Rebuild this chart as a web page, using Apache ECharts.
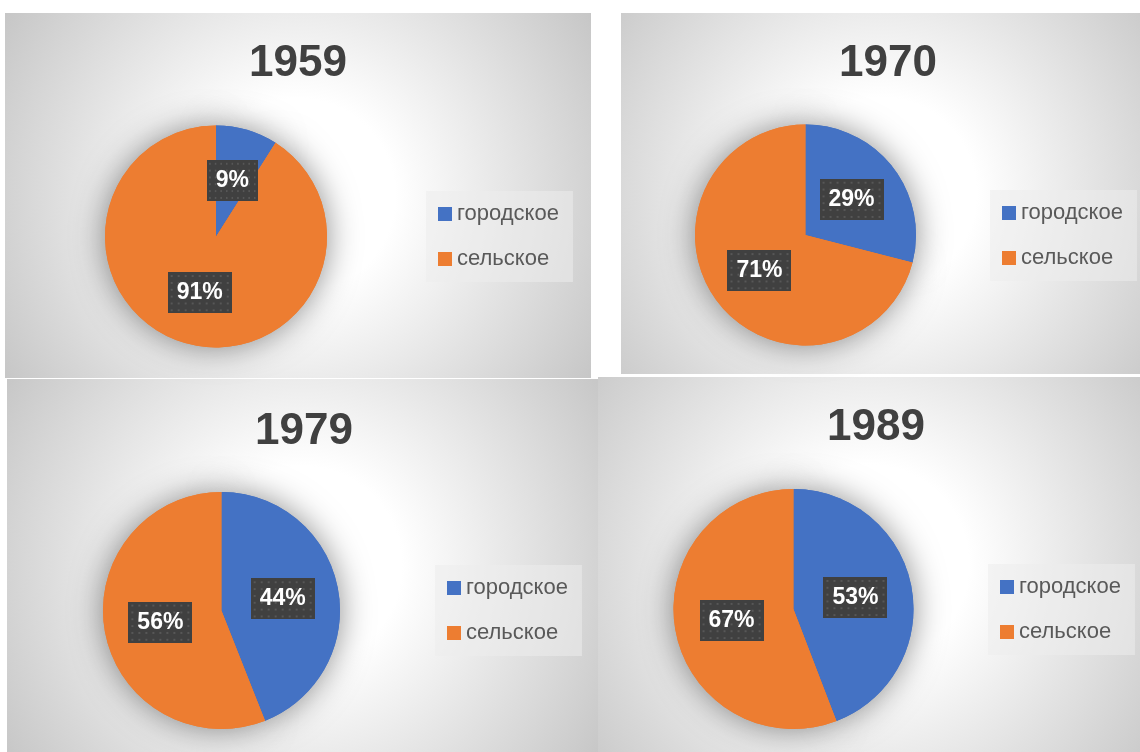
<!DOCTYPE html>
<html>
<head>
<meta charset="utf-8">
<script src="https://cdn.jsdelivr.net/npm/echarts@6/dist/echarts.min.js"></script>
<style>
  html, body { margin: 0; padding: 0; background: #ffffff; }
  #chart { width: 1140px; height: 752px; }
</style>
</head>
<body>
<div id="chart"></div>
<script>
// ---- data ----
const years = ['1959', '1970', '1979', '1989'];
const categories = ['городское', 'сельское'];
const urban = [9, 29, 44, 53];
const rural = [91, 71, 56, 67];

// ---- layout / style (not data) ----
const panels = [
  { x: 5,   y: 13,  w: 586, h: 365 },
  { x: 621, y: 13,  w: 519, h: 361 },
  { x: 7,   y: 379, w: 591, h: 373 },
  { x: 598, y: 377, w: 542, h: 375 }
];
const pies = [
  { c: [216, 236.5], r: 111 },
  { c: [805.5, 235], r: 110.5 },
  { c: [221.5, 610.5], r: 118.5 },
  { c: [793.5, 609], r: 120 }
];
const titlePos = [[298, 42], [888, 42], [304, 410], [876, 406]];
const legendPos = [[426, 191], [990, 190], [435, 565], [988, 564]];
const colors = ['#4472C4', '#ED7D31'];

// dotted dark label background
function makePattern() {
  const c = document.createElement('canvas');
  c.width = 64; c.height = 42;
  const g = c.getContext('2d');
  g.fillStyle = '#404040';
  g.fillRect(0, 0, 64, 42);
  g.fillStyle = '#575757';
  for (let y = 3; y < 42; y += 7) {
    for (let x = 3; x < 64; x += 7) {
      g.fillRect(x, y, 2, 2);
    }
  }
  return c;
}
const pattern = makePattern();

const chart = echarts.init(document.getElementById('chart'), null, { renderer: 'canvas' });

const graphic = panels.map(p => ({
  type: 'rect',
  z: -10,
  silent: true,
  shape: { x: p.x, y: p.y, width: p.w, height: p.h },
  style: {
    fill: {
      type: 'radial', x: 0.5, y: 0.5, r: 0.95,
      colorStops: [
        { offset: 0, color: '#ffffff' },
        { offset: 0.28, color: '#ffffff' },
        { offset: 1, color: '#c6c6c6' }
      ]
    }
  }
}));

const title = years.map((y, i) => ({
  text: y,
  left: titlePos[i][0],
  top: titlePos[i][1],
  textAlign: 'center',
  padding: 0,
  textStyle: { fontFamily: 'Liberation Sans', fontWeight: 'bold', fontSize: 44, color: '#404040', lineHeight: 43 }
}));

const legend = years.map((y, i) => ({
  data: categories,
  orient: 'vertical',
  left: legendPos[i][0],
  top: legendPos[i][1],
  padding: [12, 14, 12, 12],
  itemGap: 23,
  itemWidth: 14,
  itemHeight: 14,
  icon: 'rect',
  backgroundColor: 'rgba(236,236,236,0.55)',
  selectedMode: false,
  textStyle: { fontFamily: 'Liberation Sans', fontSize: 22, color: '#595959', lineHeight: 22, padding: [0, 0, 0, 0] }
}));

const series = [];
years.forEach((y, i) => {
  const data = [
    { name: categories[0], value: urban[i] },
    { name: categories[1], value: rural[i] }
  ];
  // soft shadow layer behind the pie
  series.push({
    type: 'pie',
    z: 1,
    silent: true,
    legendHoverLink: false,
    center: pies[i].c,
    radius: pies[i].r,
    startAngle: 90,
    animation: false,
    label: { show: false },
    labelLine: { show: false },
    itemStyle: { shadowBlur: 32, shadowColor: 'rgba(0,0,0,0.45)' },
    data: data.map(d => ({ ...d }))
  });
  series.push({
    type: 'pie',
    z: 2,
    center: pies[i].c,
    radius: pies[i].r,
    startAngle: 90,
    animation: false,
    avoidLabelOverlap: false,
    minShowLabelAngle: 0,
    itemStyle: { borderWidth: 0 },
    label: {
      show: true,
      position: 'inside',
      formatter: '{c}%',
      fontFamily: 'Liberation Sans',
      fontWeight: 'bold',
      fontSize: 23,
      lineHeight: 23,
      color: '#ffffff',
      backgroundColor: { image: pattern },
      padding: [9, 9, 9, 9],
      shadowColor: 'rgba(0,0,0,0.55)',
      shadowBlur: 6,
      shadowOffsetX: 3,
      shadowOffsetY: 3
    },
    labelLine: { show: false },
    labelLayout: { hideOverlap: false },
    emphasis: { scale: false },
    data: data
  });
});

chart.setOption({
  color: colors,
  animation: false,
  graphic: graphic,
  title: title,
  legend: legend,
  series: series
});
</script>
</body>
</html>
